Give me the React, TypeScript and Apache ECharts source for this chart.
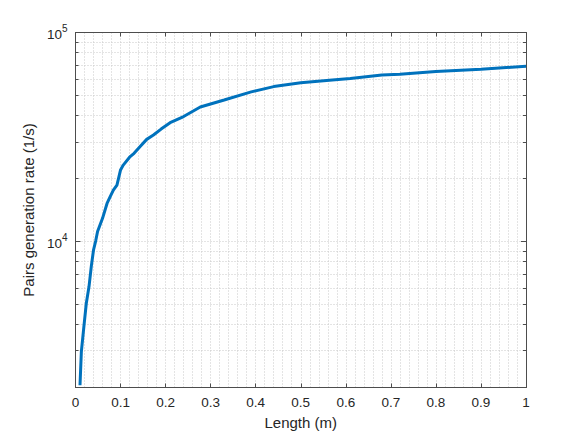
import React, { useEffect, useRef } from "react";
import * as echarts from "echarts";

const lengths = [0.01, 0.013, 0.019, 0.024, 0.03, 0.035, 0.04, 0.045, 0.049, 0.06, 0.07, 0.077, 0.084, 0.092, 0.1, 0.106, 0.12, 0.13, 0.143, 0.158, 0.173, 0.19, 0.21, 0.24, 0.277, 0.33, 0.39, 0.44, 0.5, 0.57, 0.61, 0.68, 0.72, 0.8, 0.9, 1.0];
const rates = [2050, 2970, 3990, 5060, 6080, 7580, 9100, 10100, 11150, 12900, 15200, 16400, 17600, 18600, 22000, 23200, 25300, 26400, 28400, 30800, 32300, 34500, 37000, 39600, 44000, 47500, 52000, 55100, 57500, 59300, 60300, 62600, 63100, 65100, 66700, 69000];

const yMajorTicks = [10000, 100000];
const yMinorTicks = [2000, 3000, 4000, 5000, 6000, 7000, 8000, 9000, 10000, 20000, 30000, 40000, 50000, 60000, 70000, 80000, 90000, 100000];

const FONT = "'Liberation Sans', Arial, Helvetica, sans-serif";
const TXT = "#262626";
const AX = "#4d4d4d";
const GRID = "#c9c9c9";

export default function App() {
  const ref = useRef<HTMLDivElement>(null);
  useEffect(() => {
    if (!ref.current) return;
    const chart = echarts.init(ref.current, null, { renderer: "svg" });
    const gridLine = { show: true, lineStyle: { color: GRID, width: 1, type: [1, 2] as any } };
    const yBase = {
      type: "log" as const,
      logBase: 10,
      min: 2000,
      max: 100000,
      axisLine: { show: true, lineStyle: { color: AX, width: 1 } },
    };
    const option: any = {
      animation: false,
      grid: { left: 75.5, top: 32.5, right: 55, bottom: 48.5, containLabel: false },
      xAxis: [
        {
          type: "value",
          min: 0,
          max: 1,
          interval: 0.1,
          name: "Length (m)",
          nameLocation: "middle",
          nameGap: 27,
          nameTextStyle: { fontFamily: FONT, fontSize: 15, color: TXT },
          axisLine: { show: true, lineStyle: { color: AX, width: 1 } },
          axisTick: { show: true, inside: true, length: 4, lineStyle: { color: AX } },
          axisLabel: {
            margin: 8,
            fontFamily: FONT,
            fontSize: 13.5,
            color: TXT,
            formatter: (v: number) => String(+v.toFixed(1)),
          },
          splitLine: gridLine,
          minorTick: { show: false, splitNumber: 5 },
          minorSplitLine: gridLine,
        },
        {
          type: "value",
          min: 0,
          max: 1,
          interval: 0.1,
          position: "top",
          axisLine: { show: true, lineStyle: { color: AX, width: 1 } },
          axisTick: { show: true, inside: true, length: 4, lineStyle: { color: AX } },
          axisLabel: { show: false },
          splitLine: { show: false },
        },
      ],
      yAxis: [
        {
          ...yBase,
          position: "left",
          name: "Pairs generation rate (1/s)",
          nameLocation: "middle",
          nameGap: 29,
          nameTextStyle: { fontFamily: FONT, fontSize: 15, color: TXT },
          axisTick: { show: true, inside: true, length: 3, customValues: yMinorTicks, lineStyle: { color: AX } },
          axisLabel: {
            margin: 8,
            customValues: yMajorTicks,
            formatter: (v: number) => `{base|10}{sup|${Math.round(Math.log10(v))}}`,
            rich: {
              base: { fontFamily: FONT, fontSize: 13.5, color: TXT, verticalAlign: "bottom", lineHeight: 18 },
              sup: { fontFamily: FONT, fontSize: 10, color: TXT, verticalAlign: "top", lineHeight: 18 },
            },
          },
          splitLine: gridLine,
        },
        {
          ...yBase,
          position: "left",
          axisLine: { show: false },
          axisTick: { show: true, inside: true, length: 5, customValues: yMajorTicks, lineStyle: { color: AX } },
          axisLabel: { show: false },
          splitLine: { show: false },
        },
        {
          ...yBase,
          position: "right",
          axisTick: { show: true, inside: true, length: 3, customValues: yMinorTicks, lineStyle: { color: AX } },
          axisLabel: { show: false },
          splitLine: { show: false },
        },
        {
          ...yBase,
          position: "right",
          axisLine: { show: false },
          axisTick: { show: true, inside: true, length: 5, customValues: yMajorTicks, lineStyle: { color: AX } },
          axisLabel: { show: false },
          splitLine: { show: false },
        },
      ],
      series: [
        {
          type: "line",
          xAxisIndex: 0,
          yAxisIndex: 0,
          data: lengths.map((x, i) => [x, rates[i]]),
          showSymbol: false,
          symbol: "none",
          lineStyle: { color: "#0072BD", width: 3 },
          z: 5,
        },
      ],
    };
    chart.setOption(option);
    return () => chart.dispose();
  }, []);
  return <div ref={ref} style={{ position: "absolute", left: 0, top: 0, width: 581, height: 436, background: "#fff" }} />;
}
